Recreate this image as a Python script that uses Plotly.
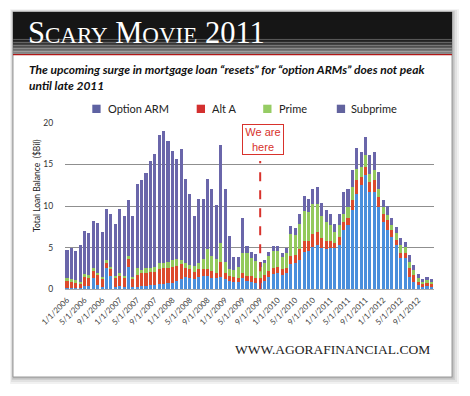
import plotly.graph_objects as go

# page has an 8px body margin; draw in window pixel coordinates shifted by it
OFF = 8
W, H = 470 - OFF, 396 - OFF


def px(x):
    return (x - OFF) / W


def py(y):
    return 1 - (y - OFF) / H


# ---------------- data ----------------
months = [f"{m}/1/{y}" for y in range(2006, 2013) for m in range(1, 13)]
tick_labels = months[::4]

option_arm = [0.2, 0.2, 0.2, 0.1, 0.4, 0.4, 1.3, 0.5, 0.3,
              2.5, 1.6, 0.3, 0.4, 0.3, 2.7, 0.3,
              0.3, 0.4, 0.4, 0.5, 0.5, 0.6, 0.6, 0.7, 0.8, 1.0, 1.2,
              1.5, 1.4, 1.2, 1.5, 1.6, 1.6, 1.4, 1.3, 1.5, 1.2, 1.0, 0.9, 0.9,
              1.3, 1.0, 0.9, 0.8, 0.8, 1.0, 1.5, 1.8, 1.9, 1.7, 1.9, 3.0, 3.2, 3.5, 4.5,
              4.6, 5.1, 5.3, 4.9, 4.8, 4.9, 4.9,
              5.3, 7.1, 7.7, 9.5, 11.5, 12.5, 13.7, 11.7, 11.7, 9.9, 8.1, 7.1, 6.3,
              5.3, 3.7, 3.7, 1.5, 0.9, 0.5, 0.3, 0.4, 0.3]
alt_a = [0.9, 0.8, 0.7, 0.6, 1.1, 1.0, 0.9, 1.2, 0.9,
         0.6, 0.8, 1.0, 1.2, 1.0, 0.9, 0.9,
         1.4, 1.5, 1.6, 1.6, 1.6, 1.8, 2.0, 1.8, 1.9, 1.8, 1.8,
         1.1, 1.0, 0.9, 0.9, 0.8, 0.8, 0.8, 0.7, 1.8, 0.7, 0.6, 0.6, 0.5,
         0.6, 0.6, 0.7, 0.6, 0.6, 0.7, 0.7, 0.8, 0.8, 0.7, 0.7, 1.0, 0.9, 1.3, 1.3,
         1.2, 1.5, 1.6, 1.2, 1.0, 0.9, 0.6,
         1.0, 1.0, 0.9, 1.2, 1.6, 1.0, 1.0, 1.2, 1.4, 1.2, 0.9, 1.2, 0.8,
         0.6, 0.6, 0.6, 1.0, 0.8, 0.4, 0.3, 0.4, 0.3]
prime = [0.2, 0.2, 0.2, 0.2, 0.3, 0.3, 0.3, 0.3, 0.3,
         0.4, 0.3, 0.3, 0.3, 0.3, 0.4, 0.3,
         0.8, 0.4, 0.5, 0.5, 0.6, 0.7, 0.6, 0.8, 0.8, 0.8, 0.5,
         0.6, 0.5, 0.7, 0.8, 1.2, 2.4, 1.8, 1.6, 2.3, 1.4, 0.8, 0.8, 1.3,
         2.5, 2.7, 2.2, 2.0, 1.3, 1.4, 1.8, 2.0, 1.9, 1.5, 1.7, 2.6, 2.4, 3.0, 3.6,
         3.5, 3.6, 3.3, 2.7, 2.3, 1.9, 1.4,
         1.4, 1.0, 1.3, 1.6, 1.3, 1.2, 1.4, 1.0, 1.2, 1.0, 0.9, 0.6, 0.6,
         0.8, 1.0, 0.8, 0.8, 0.6, 0.4, 0.3, 0.3, 0.3]
subprime = [3.4, 3.8, 3.5, 4.4, 5.2, 5.0, 5.7, 6.0, 5.4,
            6.1, 6.3, 6.2, 7.8, 7.2, 6.7, 7.3,
            10.1, 10.8, 11.5, 12.8, 13.6, 15.4, 15.8, 14.5, 13.1, 12.1, 13.4,
            10.1, 8.5, 6.0, 7.6, 7.2, 8.4, 8.1, 6.5, 11.7, 8.7, 4.0, 1.6, 1.2,
            4.2, 0.9, 0.7, 0.8, 0.6, 0.4, 0.5, 0.6, 0.6, 0.4, 0.6, 1.0, 0.8, 1.3, 1.8,
            1.6, 1.9, 2.1, 1.6, 1.4, 1.3, 0.9,
            1.4, 2.6, 2.1, 2.0, 2.6, 1.8, 2.2, 2.2, 2.2, 2.0, 0.8, 1.1, 0.8,
            0.8, 0.9, 0.6, 0.8, 0.6, 0.5, 0.3, 0.4, 0.3]

series_names = ["Option ARM", "Alt A", "Prime", "Subprime"]
series_values = [option_arm, alt_a, prime, subprime]
bar_colors = ["#4a8fdc", "#dc4a2c", "#93c95c", "#6a66aa"]
legend_colors = ["#5e62a2", "#d3302f", "#96cc64", "#62639e"]
y_ticks = [0, 5, 10, 15, 20]
marker_month = "9/1/2009"

# ---------------- figure ----------------
fig = go.Figure()
for name, vals, col in zip(series_names, series_values, bar_colors):
    fig.add_trace(go.Bar(x=months, y=vals, name=name, marker_color=col,
                         marker_line_width=0, showlegend=False))

shapes = []
# outer soft shadow
for d, c in [(7, "#f1f1f1"), (5, "#e2e2e2"), (3, "#cfcfcf"), (1.5, "#b9b9b9")]:
    shapes.append(dict(type="rect", xref="paper", yref="paper", layer="below",
                       x0=px(13 - d * 0.4), x1=px(452 + d), y0=py(377 + d), y1=py(12 - d * 0.4),
                       fillcolor=c, line_width=0))
# card
shapes.append(dict(type="rect", xref="paper", yref="paper", layer="below",
                   x0=px(13), x1=px(452), y0=py(377), y1=py(12),
                   fillcolor="white", line=dict(color="#9a9a9a", width=1)))
# header band
shapes.append(dict(type="rect", xref="paper", yref="paper", layer="below",
                   x0=px(13), x1=px(452), y0=py(38), y1=py(12),
                   fillcolor="#161616", line_width=0))
grad = ["#1a1a1a", "#222222", "#2c2c2c", "#373737", "#434343", "#505050",
        "#5d5d5d", "#6a6a6a", "#767676", "#828282", "#8c8c8c"]
for i, c in enumerate(grad):
    y0 = 38 + i * 1.5
    shapes.append(dict(type="rect", xref="paper", yref="paper", layer="below",
                       x0=px(13), x1=px(452), y0=py(y0 + 1.6), y1=py(y0),
                       fillcolor=c, line_width=0))
shapes.append(dict(type="rect", xref="paper", yref="paper", layer="below",
                   x0=px(13), x1=px(452), y0=py(55.3), y1=py(54),
                   fillcolor="#b01818", line_width=0))
# legend squares
leg_sq_x = [92.3, 196.7, 263.2, 336.8]
for x0, c in zip(leg_sq_x, legend_colors):
    shapes.append(dict(type="rect", xref="paper", yref="paper",
                       x0=px(x0), x1=px(x0 + 8.3), y0=py(113), y1=py(104.7),
                       fillcolor=c, line_width=0))
# "we are here" dashed line
shapes.append(dict(type="line", xref="x", yref="y",
                   x0=months.index(marker_month), x1=months.index(marker_month),
                   y0=0, y1=15.4, line=dict(color="#d8322c", width=2, dash="dash")))

annotations = []
annotations.append(dict(
    xref="paper", yref="paper", x=px(26), y=py(32.5), xanchor="left", yanchor="middle",
    text="S<span style='font-size:23px'>CARY</span> M<span style='font-size:23px'>OVIE</span> 2011",
    showarrow=False, font=dict(family="Liberation Serif", size=30.5, color="white")))
annotations.append(dict(
    xref="paper", yref="paper", x=px(27), y=py(77.5), xanchor="left", yanchor="middle",
    align="left",
    text="<b><i>The upcoming surge in mortgage loan \u201cresets\u201d for \u201coption ARMs\u201d does not peak<br>until late 2011</i></b>",
    showarrow=False, font=dict(family="Lato", size=12, color="#111")))
leg_txt_x = [105.5, 209.5, 276.5, 349.3]
for x0, name in zip(leg_txt_x, series_names):
    annotations.append(dict(xref="paper", yref="paper", x=px(x0), y=py(108.8),
                            xanchor="left", yanchor="middle", text=name, showarrow=False,
                            font=dict(family="Lato", size=11, color="#222")))
annotations.append(dict(xref="paper", yref="paper", x=px(37), y=py(186),
                        xanchor="center", yanchor="middle", textangle=-90,
                        text="Total Loan Balance  ($Bil)", showarrow=False,
                        font=dict(family="Lato", size=8.5, color="#222")))
annotations.append(dict(xref="paper", yref="paper", x=px(262.5), y=py(139.5),
                        xanchor="center", yanchor="middle", text="We are<br>here",
                        showarrow=False, width=38, height=27, borderpad=1,
                        bordercolor="#d8322c", borderwidth=1, bgcolor="white",
                        font=dict(family="Liberation Sans", size=11, color="#d8322c")))
annotations.append(dict(xref="paper", yref="paper", x=px(432), y=py(349),
                        xanchor="right", yanchor="middle", text="WWW.AGORAFINANCIAL.COM",
                        showarrow=False,
                        font=dict(family="Liberation Serif", size=13.5, color="#222")))

fig.update_layout(
    width=W, height=H, margin=dict(l=0, r=0, t=0, b=0, autoexpand=False),
    paper_bgcolor="white", plot_bgcolor="rgba(0,0,0,0)",
    barmode="stack", bargap=0.3,
    shapes=shapes, annotations=annotations,
    xaxis=dict(domain=[px(64.8), px(433.6)], type="category", range=[-0.5, 83.5],
               tickmode="array", tickvals=tick_labels, ticktext=tick_labels,
               tickangle=-45, tickfont=dict(family="Lato", size=8, color="#444"),
               showgrid=False, showline=True, linecolor="#aaaaaa", linewidth=1,
               ticks="outside", ticklen=2, tickcolor="rgba(0,0,0,0)", fixedrange=True,
               automargin=False),
    yaxis=dict(domain=[py(289.3), py(122.7)], range=[0, 20], tickvals=y_ticks,
               showgrid=True, gridcolor="#8f8f8f", gridwidth=1, zeroline=False,
               tickfont=dict(family="Lato", size=8.5, color="#333"),
               ticks="outside", ticklen=9, tickcolor="rgba(0,0,0,0)", fixedrange=True,
               automargin=False),
    showlegend=False,
)

fig.write_html("out.html")
